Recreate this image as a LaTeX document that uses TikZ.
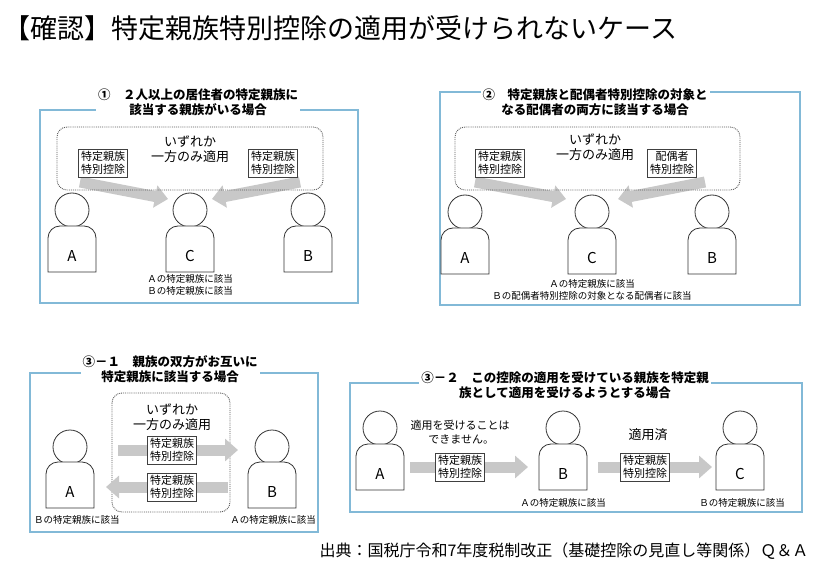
\documentclass[tikz,border=0pt]{standalone}
\usepackage{fontspec}
\setmainfont{Noto Sans CJK JP}
\usetikzlibrary{arrows.meta}
\definecolor{frame}{RGB}{130,185,215}
\definecolor{arr}{RGB}{200,200,200}
\tikzset{
 panel/.style={draw=frame,line width=1.3pt},
 ptitle/.style={fill=white,font=\fontsize{12.5}{15}\selectfont\bfseries,align=center,inner sep=2pt},
 dotbox/.style={draw=gray!70!black,densely dotted,line width=0.9pt,rounded corners=10pt},
 lab/.style={draw=black!75,fill=white,line width=0.7pt,font=\fontsize{11}{13}\selectfont,align=center,inner sep=2.5pt},
 small/.style={font=\fontsize{9.5}{11.5}\selectfont,align=center,inner sep=0pt},
 mid/.style={font=\fontsize{13}{15}\selectfont,align=center,inner sep=0pt},
 garrow/.style={arr,line width=11pt,-{Triangle[length=13pt,width=22pt]}},
 head/.style={circle,draw=black!80,line width=0.8pt,fill=white,minimum size=34pt,inner sep=0pt},
}
\newcommand{\person}[5]{% name x headY bodyTop letter
 \node[head] (#1h) at (#2,#3) {};
 \draw[black!80,line width=0.8pt,fill=white,rounded corners=12pt] (#2-24,#4+46) -- (#2-24,#4) -- (#2+24,#4) [sharp corners]-- (#2+24,#4+46) -- cycle;
 \node[font=\fontsize{15}{15}\selectfont] (#1) at (#2,#4+30) {#5};
}
\begin{document}
\begin{tikzpicture}[x=1pt,y=-1pt]
\useasboundingbox (0,0) rectangle (837,569);
\fill[white] (0,0) rectangle (837,569);
\node[anchor=west,font=\fontsize{27}{29}\selectfont] (title) at (0,28) {【確認】特定親族特別控除の適用が受けられないケース};
\node[anchor=east,font=\fontsize{16}{18}\selectfont] (src) at (812,551) {出典：国税庁令和7年度税制改正（基礎控除の見直し等関係）Ｑ＆Ａ};

% Panel 1
\draw[panel] (40,110) rectangle (358,303);
\node[ptitle] (t1) at (198,102) {①\quad ２人以上の居住者の特定親族に\\該当する親族がいる場合};
\draw[garrow] (80,182) -- (168,199);
\draw[garrow] (300,182) -- (212,199);
\draw[dotbox] (57,127) rectangle (323,190);
\node[mid] (m1) at (190,149) {いずれか\\一方のみ適用};
\node[lab] (l1a) at (103,163) {特定親族\\特別控除};
\node[lab] (l1b) at (273,163) {特定親族\\特別控除};
\person{p1A}{72}{210}{226}{A}
\person{p1C}{190}{210}{226}{C}
\person{p1B}{308}{210}{226}{B}
\node[small] (n1) at (190,285) {Ａの特定親族に該当\\Ｂの特定親族に該当};

% Panel 2
\draw[panel] (440,92) rectangle (800,305);
\node[ptitle] (t2) at (595,102) {②\quad 特定親族と配偶者特別控除の対象と\\なる配偶者の両方に該当する場合};
\draw[garrow] (475,182) -- (566,199);
\draw[garrow] (705,182) -- (618,199);
\draw[dotbox] (455,127) rectangle (740,190);
\node[mid] (m2) at (595,147) {いずれか\\一方のみ適用};
\node[lab] (l2a) at (500,163) {特定親族\\特別控除};
\node[lab] (l2b) at (672,163) {配偶者\\特別控除};
\person{p2A}{465}{212}{228}{A}
\person{p2C}{592}{212}{228}{C}
\person{p2B}{712}{212}{228}{B}
\node[small] (n2) at (592,290) {Ａの特定親族に該当\\Ｂの配偶者特別控除の対象となる配偶者に該当};

% Panel 3-1
\draw[panel] (30,373) rectangle (318,532);
\node[ptitle] (t3) at (170,369) {③－１\quad 親族の双方がお互いに\\特定親族に該当する場合};
\draw[dotbox] (112,393) rectangle (230,512);
\draw[garrow] (118,450) -- (238,450);
\draw[garrow] (228,487) -- (106,487);
\node[mid] (m3) at (172,417) {いずれか\\一方のみ適用};
\node[lab] (l3a) at (172,450) {特定親族\\特別控除};
\node[lab] (l3b) at (172,487) {特定親族\\特別控除};
\person{p3A}{70}{447}{462}{A}
\person{p3B}{272}{447}{462}{B}
\node[small,anchor=west] (n3a) at (34,520) {Ｂの特定親族に該当};
\node[small,anchor=east] (n3b) at (316,520) {Ａの特定親族に該当};

% Panel 3-2
\draw[panel] (350,383) rectangle (802,512);
\node[ptitle] (t4) at (565,385) {③－２\quad この控除の適用を受けている親族を特定親\\族として適用を受けるようとする場合};
\draw[garrow] (410,467) -- (528,467);
\draw[garrow] (598,467) -- (712,467);
\person{p4A}{380}{428}{444}{A}
\person{p4B}{563}{428}{444}{B}
\person{p4C}{740}{428}{444}{C}
\node[lab] (l4a) at (460,467) {特定親族\\特別控除};
\node[lab] (l4b) at (645,467) {特定親族\\特別控除};
\node[small,font=\fontsize{11}{14}\selectfont] (m4a) at (460,432) {適用を受けることは\\\ できません。};
\node[mid] (m4b) at (648,435) {適用済};
\node[small] (n4a) at (563,503) {Ａの特定親族に該当};
\node[small] (n4b) at (742,503) {Ｂの特定親族に該当};
\end{tikzpicture}
\end{document}
